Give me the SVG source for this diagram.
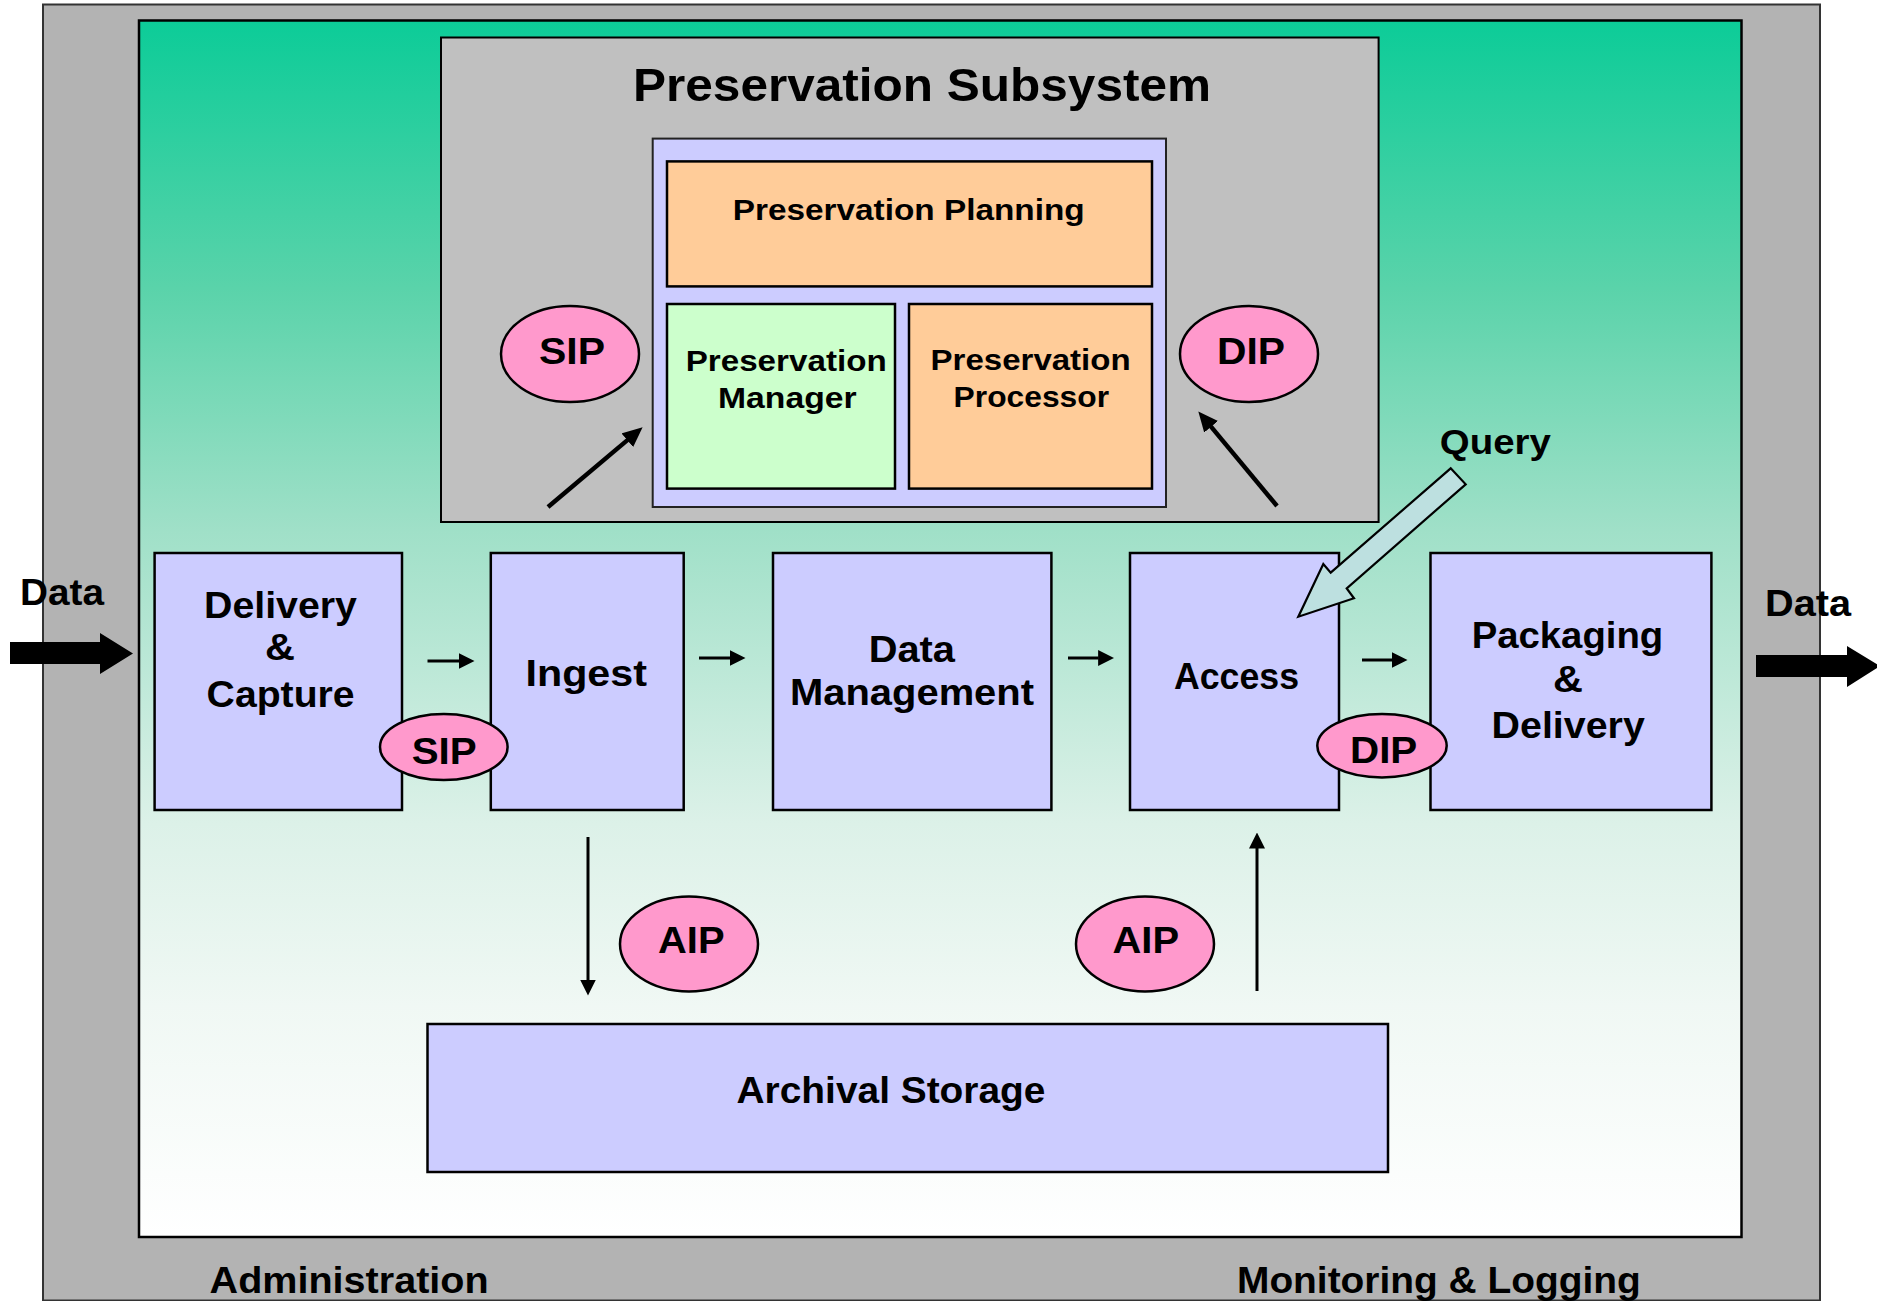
<svg xmlns="http://www.w3.org/2000/svg" width="1877" height="1301" viewBox="0 0 1877 1301">
  <style>
    text { font-family: "Liberation Sans", Arial, sans-serif; font-weight: bold; fill: #000; }
    .lbl { font-size: 37px; }
    .sm { font-size: 30px; }
    .box { fill: #ccccff; stroke: #000; stroke-width: 2.5; }
    .pkg { fill: #ff99cc; stroke: #000; stroke-width: 2.5; }
    .flow { stroke: #000; stroke-width: 3; fill: none; }
    .flowthick { stroke: #000; stroke-width: 4.5; fill: none; }
  </style>
  <defs>
    <linearGradient id="teal" x1="0" y1="0" x2="0" y2="1">
      <stop offset="0" stop-color="#0ccc98"/>
      <stop offset="0.22" stop-color="#5ad3aa"/>
      <stop offset="0.42" stop-color="#a0e0c8"/>
      <stop offset="0.66" stop-color="#dcf1e8"/>
      <stop offset="0.81" stop-color="#f0f8f4"/>
      <stop offset="1" stop-color="#ffffff"/>
    </linearGradient>
    <marker id="head" markerUnits="userSpaceOnUse" markerWidth="16" markerHeight="16" viewBox="0 0 16 16" refX="0.5" refY="8" orient="auto">
      <path d="M0,0 L16,8 L0,16 z" fill="#000"/>
    </marker>
    <marker id="headL" markerUnits="userSpaceOnUse" markerWidth="20" markerHeight="18" viewBox="0 0 20 18" refX="0.5" refY="9" orient="auto">
      <path d="M0,0 L20,9 L0,18 z" fill="#000"/>
    </marker>
  </defs>

  <!-- outer frame: administration / monitoring band -->
  <g id="frame">
    <rect x="43" y="4.5" width="1777" height="1296" fill="#b3b3b3" stroke="#333" stroke-width="2"/>
    <rect x="139" y="20.5" width="1602.5" height="1216.5" fill="url(#teal)" stroke="#000" stroke-width="2.5"/>
    <text class="lbl" x="209.6" y="1293" textLength="279" lengthAdjust="spacingAndGlyphs">Administration</text>
    <text class="lbl" x="1237" y="1293" textLength="403.7" lengthAdjust="spacingAndGlyphs">Monitoring &amp; Logging</text>
  </g>

  <!-- preservation subsystem -->
  <g id="preservation-subsystem">
    <rect x="441" y="37.5" width="937.6" height="484.5" fill="#c0c0c0" stroke="#000" stroke-width="2"/>
    <text x="633" y="101" font-size="47" textLength="578" lengthAdjust="spacingAndGlyphs">Preservation Subsystem</text>
    <rect x="652.7" y="138.6" width="513.3" height="368.4" fill="#ccccff" stroke="#222" stroke-width="2"/>
  </g>

  <g id="preservation-planning">
    <rect x="667" y="161.4" width="485" height="125" fill="#ffcc99" stroke="#000" stroke-width="2.5"/>
    <text class="sm" x="732.7" y="219.6" textLength="352" lengthAdjust="spacingAndGlyphs">Preservation Planning</text>
  </g>

  <g id="preservation-manager">
    <rect x="667" y="304" width="228" height="184.6" fill="#ccffcc" stroke="#000" stroke-width="2.5"/>
    <text class="sm" x="685.7" y="371.4" textLength="201" lengthAdjust="spacingAndGlyphs">Preservation</text>
    <text class="sm" x="718" y="408" textLength="138.6" lengthAdjust="spacingAndGlyphs">Manager</text>
  </g>

  <g id="preservation-processor">
    <rect x="909" y="304" width="243" height="184.6" fill="#ffcc99" stroke="#000" stroke-width="2.5"/>
    <text class="sm" x="930.6" y="370" textLength="200" lengthAdjust="spacingAndGlyphs">Preservation</text>
    <text class="sm" x="953.6" y="407" textLength="155.4" lengthAdjust="spacingAndGlyphs">Processor</text>
  </g>

  <g id="sip-upper">
    <ellipse class="pkg" cx="570" cy="354" rx="69" ry="48"/>
    <text class="lbl" x="539" y="364" textLength="66" lengthAdjust="spacingAndGlyphs">SIP</text>
  </g>

  <g id="dip-upper">
    <ellipse class="pkg" cx="1249" cy="354" rx="69" ry="48"/>
    <text class="lbl" x="1217" y="364" textLength="68" lengthAdjust="spacingAndGlyphs">DIP</text>
  </g>

  <!-- functional entities -->
  <g id="delivery-capture">
    <rect class="box" x="154.6" y="553" width="247.4" height="257"/>
    <text class="lbl" x="204" y="617.7" textLength="153" lengthAdjust="spacingAndGlyphs">Delivery</text>
    <text class="lbl" x="265" y="660" textLength="30" lengthAdjust="spacingAndGlyphs">&amp;</text>
    <text class="lbl" x="206.6" y="706.7" textLength="148" lengthAdjust="spacingAndGlyphs">Capture</text>
  </g>

  <g id="ingest">
    <rect class="box" x="490.8" y="553" width="192.9" height="257"/>
    <text class="lbl" x="525.5" y="686" textLength="121.5" lengthAdjust="spacingAndGlyphs">Ingest</text>
  </g>

  <g id="data-management">
    <rect class="box" x="773" y="553" width="278.4" height="257"/>
    <text class="lbl" x="868.7" y="661.7" textLength="86.3" lengthAdjust="spacingAndGlyphs">Data</text>
    <text class="lbl" x="790" y="705" textLength="244" lengthAdjust="spacingAndGlyphs">Management</text>
  </g>

  <g id="access">
    <rect class="box" x="1130" y="553" width="209" height="257"/>
    <text class="lbl" x="1174" y="689" textLength="125" lengthAdjust="spacingAndGlyphs">Access</text>
  </g>

  <g id="packaging-delivery">
    <rect class="box" x="1430.5" y="553" width="280.9" height="257"/>
    <text class="lbl" x="1471.7" y="648" textLength="191.5" lengthAdjust="spacingAndGlyphs">Packaging</text>
    <text class="lbl" x="1553" y="691.7" textLength="30" lengthAdjust="spacingAndGlyphs">&amp;</text>
    <text class="lbl" x="1491.6" y="738" textLength="153.2" lengthAdjust="spacingAndGlyphs">Delivery</text>
  </g>

  <g id="archival-storage">
    <rect class="box" x="427.5" y="1024" width="960.5" height="148"/>
    <text class="lbl" x="736.5" y="1103" textLength="309" lengthAdjust="spacingAndGlyphs">Archival Storage</text>
  </g>

  <!-- connectors -->
  <g id="connectors">
    <line class="flow" x1="427.5" y1="661" x2="459" y2="661" marker-end="url(#head)"/>
    <line class="flow" x1="699" y1="658" x2="730" y2="658" marker-end="url(#head)"/>
    <line class="flow" x1="1068" y1="658" x2="1098.6" y2="658" marker-end="url(#head)"/>
    <line class="flow" x1="1362" y1="660" x2="1392" y2="660" marker-end="url(#head)"/>
    <line class="flow" x1="588" y1="837" x2="588" y2="980" marker-end="url(#head)"/>
    <line class="flow" x1="1257" y1="991" x2="1257" y2="848" marker-end="url(#head)"/>
    <line class="flowthick" x1="548" y1="507" x2="627.7" y2="439.9" marker-end="url(#headL)"/>
    <line class="flowthick" x1="1277" y1="506" x2="1210.8" y2="426.4" marker-end="url(#headL)"/>
    <!-- external data in / out -->
    <polygon points="10,642 100,642 100,633 133,653.5 100,674 100,664 10,664" fill="#000"/>
    <polygon points="1756,655 1847,655 1847,646 1880,666 1847,687 1847,677 1756,677" fill="#000"/>
    <!-- query block arrow -->
    <polygon points="1450.7,468.3 1465.7,484.3 1346.7,588.3 1354,598.3 1298.3,616.7 1323.3,564 1330.7,572.7" fill="#bde0e0" stroke="#000" stroke-width="2.2" stroke-linejoin="miter"/>
  </g>

  <g id="sip-lower">
    <ellipse class="pkg" cx="443.8" cy="747" rx="63.8" ry="33"/>
    <text class="lbl" x="411.7" y="764" textLength="65" lengthAdjust="spacingAndGlyphs">SIP</text>
  </g>

  <g id="dip-lower">
    <ellipse class="pkg" cx="1382" cy="745.7" rx="64.7" ry="31.7"/>
    <text class="lbl" x="1350" y="763.3" textLength="67.3" lengthAdjust="spacingAndGlyphs">DIP</text>
  </g>

  <g id="aip-left">
    <ellipse class="pkg" cx="689" cy="944" rx="69" ry="47.5"/>
    <text class="lbl" x="658" y="953.3" textLength="66.5" lengthAdjust="spacingAndGlyphs">AIP</text>
  </g>

  <g id="aip-right">
    <ellipse class="pkg" cx="1145" cy="944" rx="69" ry="47.5"/>
    <text class="lbl" x="1112.5" y="953" textLength="66.5" lengthAdjust="spacingAndGlyphs">AIP</text>
  </g>

  <g id="labels">
    <text x="1439.8" y="453.6" font-size="35" textLength="111" lengthAdjust="spacingAndGlyphs">Query</text>
    <text class="lbl" x="20" y="604.5" textLength="84" lengthAdjust="spacingAndGlyphs">Data</text>
    <text class="lbl" x="1765" y="616" textLength="86" lengthAdjust="spacingAndGlyphs">Data</text>
  </g>
</svg>
